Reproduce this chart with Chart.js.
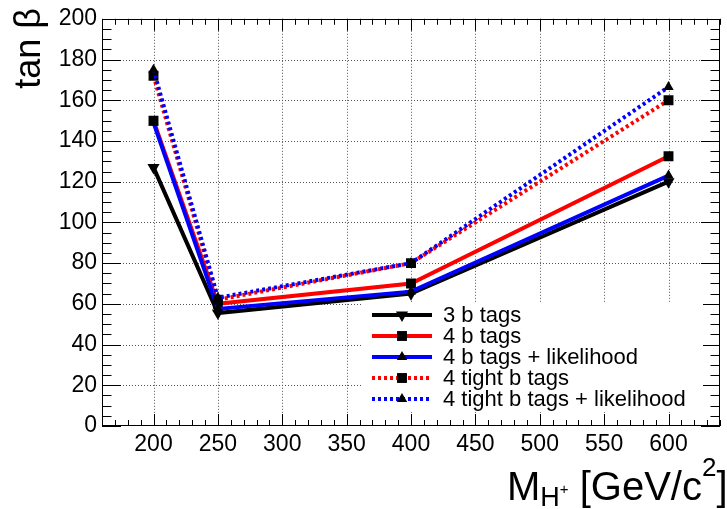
<!DOCTYPE html>
<html><head><meta charset="utf-8">
<script src="https://cdn.jsdelivr.net/npm/chart.js@4/dist/chart.umd.min.js"></script>
<style>html,body{margin:0;padding:0;background:#fff;} #wrap{width:727px;height:509px;position:relative;}</style>
</head><body><div id="wrap"><canvas id="c" width="727" height="509"></canvas></div>
<script>
// ---- data ----
const massPoints = [200, 250, 400, 600];
const tags3      = [127, 55.5, 65, 120];
const tags4      = [150, 60, 70, 132.5];
const tags4Lik   = [149, 57.5, 66, 123];
const tight4     = [172, 62, 80, 160];
const tight4Lik  = [175, 63, 80, 166.5];
const seriesNames = ["3 b tags", "4 b tags", "4 b tags + likelihood", "4 tight b tags", "4 tight b tags + likelihood"];
const xTickValues = [200, 250, 300, 350, 400, 450, 500, 550, 600];
const yTickValues = [0, 20, 40, 60, 80, 100, 120, 140, 160, 180, 200];
const xRange = [160, 640];
const yRange = [0, 200];

const FONT = '"Liberation Sans", Arial, Helvetica, sans-serif';

const styles = [
  {color: '#000000', dash: [], marker: 'triangle', rot: 180, r: 7},
  {color: '#ff0000', dash: [], marker: 'rect', rot: 0, r: 7},
  {color: '#0000ff', dash: [], marker: 'triangle', rot: 0, r: 6},
  {color: '#ff0000', dash: [3, 3], marker: 'rect', rot: 0, r: 7},
  {color: '#0000ff', dash: [3, 3], marker: 'triangle', rot: 0, r: 6}
];
const seriesValues = [tags3, tags4, tags4Lik, tight4, tight4Lik];

const datasets = seriesValues.map((vals, i) => ({
  label: seriesNames[i],
  data: massPoints.map((m, j) => ({x: m, y: vals[j]})),
  borderColor: styles[i].color,
  borderWidth: 4,
  borderDash: styles[i].dash,
  borderCapStyle: 'butt',
  tension: 0,
  fill: false,
  pointStyle: styles[i].marker,
  pointRotation: styles[i].rot,
  pointRadius: styles[i].r,
  pointBackgroundColor: '#000',
  pointBorderColor: '#000',
  pointBorderWidth: 0,
  order: 5 - i
}));

function drawMarker(ctx, style, rot, r, x, y) {
  ctx.save();
  ctx.fillStyle = '#000';
  ctx.setLineDash([]);
  ctx.beginPath();
  if (style === 'rect') {
    const s = Math.SQRT1_2 * r;
    ctx.rect(x - s, y - s, 2 * s, 2 * s);
  } else {
    let rad = rot * Math.PI / 180;
    for (let k = 0; k < 3; k++) {
      const px = x + Math.sin(rad) * r, py = y - Math.cos(rad) * r;
      if (k === 0) ctx.moveTo(px, py); else ctx.lineTo(px, py);
      rad += 2 * Math.PI / 3;
    }
    ctx.closePath();
  }
  ctx.fill();
  ctx.restore();
}

const rootPlugin = {
  id: 'rootStyle',
  beforeDatasetsDraw(chart) {
    const {ctx, chartArea: a, scales: {x, y}} = chart;
    ctx.save();
    ctx.strokeStyle = '#555';
    ctx.lineWidth = 1;
    ctx.setLineDash([1, 2]);
    xTickValues.forEach(v => {
      const px = Math.round(x.getPixelForValue(v)) + 0.5;
      ctx.beginPath(); ctx.moveTo(px, a.top); ctx.lineTo(px, a.bottom); ctx.stroke();
    });
    yTickValues.forEach(v => {
      if (v === yRange[0] || v === yRange[1]) return;
      const py = Math.round(y.getPixelForValue(v)) + 0.5;
      ctx.beginPath(); ctx.moveTo(a.left, py); ctx.lineTo(a.right, py); ctx.stroke();
    });
    ctx.restore();
  },
  afterDatasetsDraw(chart) {
    const {ctx, chartArea: a, scales: {x, y}} = chart;
    ctx.save();
    ctx.strokeStyle = '#000';
    ctx.lineWidth = 1;
    ctx.setLineDash([]);
    ctx.strokeRect(Math.round(a.left) + 0.5, Math.round(a.top) + 0.5, Math.round(a.right - a.left) - 1, Math.round(a.bottom - a.top) - 1);
    ctx.beginPath();
    // x ticks (minor every 10, major every 50)
    for (let v = xRange[0]; v <= xRange[1]; v += 10) {
      const px = Math.round(x.getPixelForValue(v)) + 0.5;
      const len = (v % 50 === 0) ? 12 : 6;
      ctx.moveTo(px, a.bottom); ctx.lineTo(px, a.bottom - len);
      ctx.moveTo(px, a.top); ctx.lineTo(px, a.top + len);
    }
    // y ticks (minor every 5, major every 20)
    for (let v = yRange[0]; v <= yRange[1]; v += 5) {
      const py = Math.round(y.getPixelForValue(v)) + 0.5;
      const len = (v % 20 === 0) ? 19 : 9.5;
      ctx.moveTo(a.left, py); ctx.lineTo(a.left + len, py);
      ctx.moveTo(a.right, py); ctx.lineTo(a.right - len, py);
    }
    ctx.stroke();
    ctx.restore();
  },
  afterDraw(chart) {
    const {ctx} = chart;
    ctx.save();
    // legend box
    ctx.fillStyle = '#fff';
    ctx.fillRect(363, 303, 340, 109);
    const rows = [315, 336, 357, 378, 399];
    rows.forEach((ry, i) => {
      const st = styles[i];
      ctx.strokeStyle = st.color;
      ctx.lineWidth = 4;
      ctx.lineCap = 'butt';
      ctx.setLineDash(st.dash);
      ctx.beginPath(); ctx.moveTo(372, ry); ctx.lineTo(432, ry); ctx.stroke();
      drawMarker(ctx, st.marker, st.rot, st.r, 402, ry);
      ctx.fillStyle = '#000';
      ctx.font = '22px ' + FONT;
      ctx.textBaseline = 'middle';
      ctx.textAlign = 'left';
      ctx.fillText(seriesNames[i], 443, ry + 1);
    });
    // y title
    ctx.save();
    ctx.translate(40, 8);
    ctx.rotate(-Math.PI / 2);
    ctx.font = '36px ' + FONT;
    ctx.fillStyle = '#000';
    ctx.textAlign = 'right';
    ctx.textBaseline = 'alphabetic';
    ctx.fillText('tan \u03b2', 0, 0);
    ctx.restore();
    // x title: M_{H+} [GeV/c^2]
    ctx.fillStyle = '#000';
    ctx.textAlign = 'left';
    ctx.textBaseline = 'alphabetic';
    let cx = 507;
    const parts = [
      {t: 'M', f: 40, b: 500},
      {t: 'H', f: 27, b: 506},
      {t: '+', f: 15, b: 494},
      {t: ' [GeV/c', f: 40, b: 500},
      {t: '2', f: 26, b: 476},
      {t: ']', f: 40, b: 500}
    ];
    parts.forEach(p => {
      ctx.font = p.f + 'px ' + FONT;
      ctx.fillText(p.t, cx, p.b);
      cx += ctx.measureText(p.t).width;
    });
    ctx.restore();
  }
};

new Chart(document.getElementById('c'), {
  type: 'line',
  data: {datasets},
  options: {
    responsive: false,
    animation: false,
    devicePixelRatio: 1,
    layout: {padding: {left: 0, right: 4, top: 10, bottom: 0}},
    plugins: {legend: {display: false}, tooltip: {enabled: false}},
    scales: {
      x: {
        type: 'linear',
        min: xRange[0], max: xRange[1],
        grid: {display: false, drawTicks: false},
        border: {display: false},
        afterBuildTicks: s => { s.ticks = xTickValues.map(v => ({value: v})); },
        afterFit: s => { s.height = 83; },
        ticks: {
          autoSkip: false, maxRotation: 0, padding: 5,
          color: '#000', font: {family: FONT, size: 23},
          callback: v => String(v)
        }
      },
      y: {
        type: 'linear',
        min: yRange[0], max: yRange[1],
        grid: {display: false, drawTicks: false},
        border: {display: false},
        afterBuildTicks: s => { s.ticks = yTickValues.map(v => ({value: v})); },
        afterFit: s => { s.width = 102; },
        ticks: {
          autoSkip: false, padding: 5,
          color: '#000', font: {family: FONT, size: 23},
          callback: v => String(v)
        }
      }
    }
  },
  plugins: [rootPlugin]
});
</script>
</body></html>
